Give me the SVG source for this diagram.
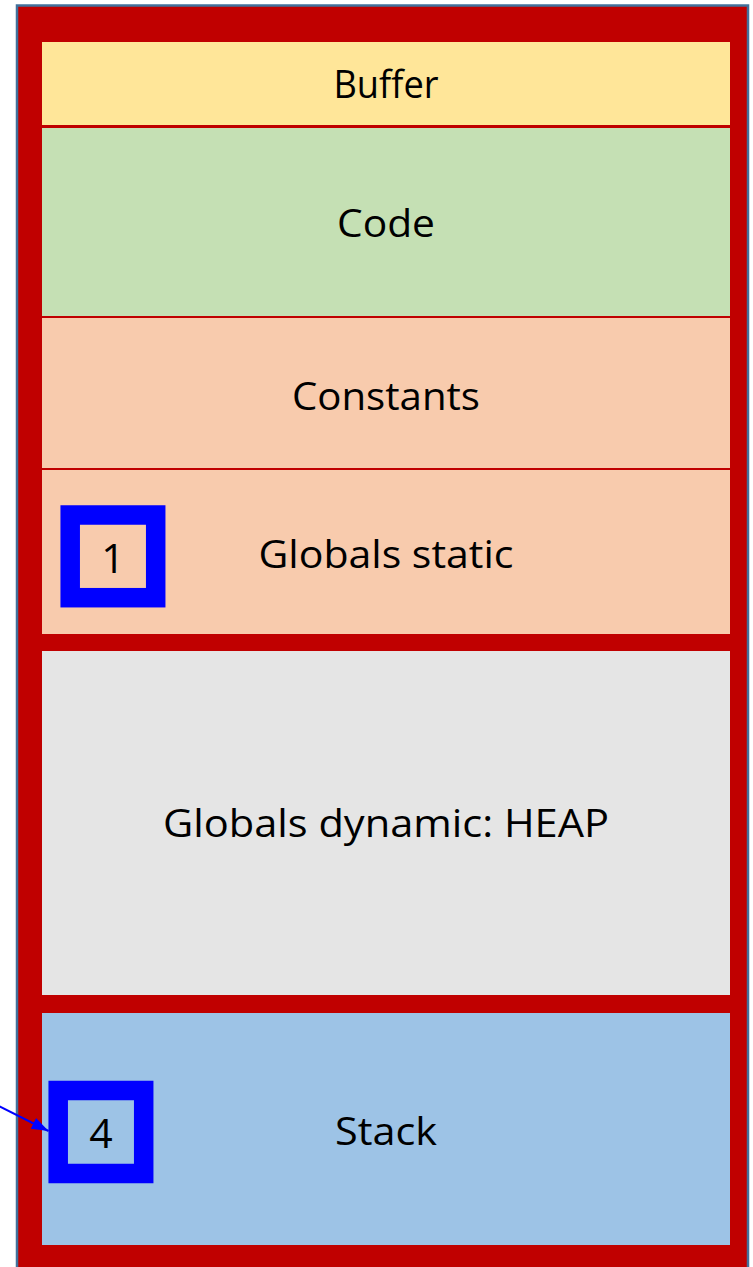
<svg xmlns="http://www.w3.org/2000/svg" width="753" height="1267" viewBox="0 0 753 1267">
<style>
.lbl{font-family:"Open Sans","Liberation Sans",sans-serif;font-size:38px;fill:#000;text-anchor:middle}
.num{font-family:"Open Sans","Liberation Sans",sans-serif;font-size:41px;fill:#000;text-anchor:middle}
.badge{stroke:#0000FF;stroke-width:19.5}
</style>
<defs>
<marker id="ah" markerUnits="userSpaceOnUse" markerWidth="20" markerHeight="14" refX="17" refY="6" orient="auto">
<path d="M0,0 L17,6 L0,12 Z" fill="#0000FF"/>
</marker>
</defs>
<g id="frame">
<rect x="17" y="5.5" width="731" height="1275" fill="#C00000" stroke="#41719C" stroke-width="2.5"/>
</g>
<g id="buffer">
<rect x="42" y="42" width="688" height="83" fill="#FFE699"/>
<text class="lbl" x="386" y="98" textLength="105" lengthAdjust="spacingAndGlyphs">Buffer</text>
</g>
<g id="code">
<rect x="42" y="128" width="688" height="188" fill="#C5E0B4"/>
<text class="lbl" x="386" y="237" textLength="98" lengthAdjust="spacingAndGlyphs">Code</text>
</g>
<g id="constants">
<rect x="42" y="318" width="688" height="150" fill="#F8CBAD"/>
<text class="lbl" x="386" y="410" textLength="188" lengthAdjust="spacingAndGlyphs">Constants</text>
</g>
<g id="globals-static">
<rect x="42" y="470" width="688" height="164" fill="#F8CBAD"/>
<text class="lbl" x="386" y="568" textLength="255" lengthAdjust="spacingAndGlyphs">Globals static</text>
</g>
<g id="heap">
<rect x="42" y="651" width="688" height="344" fill="#E5E5E5"/>
<text class="lbl" x="386" y="837" textLength="446" lengthAdjust="spacingAndGlyphs">Globals dynamic: HEAP</text>
</g>
<g id="stack">
<rect x="42" y="1013" width="688" height="232" fill="#9DC3E6"/>
<text class="lbl" x="386" y="1145" textLength="102" lengthAdjust="spacingAndGlyphs">Stack</text>
</g>
<g id="badge-1">
<rect class="badge" x="70.2" y="515" width="85.5" height="82.7" fill="#F8CBAD"/>
<text class="num" x="113" y="573">1</text>
</g>
<g id="badge-4">
<rect class="badge" x="58.2" y="1090.5" width="85.5" height="83" fill="#9DC3E6"/>
<text class="num" x="101" y="1148">4</text>
</g>
<g id="connectors">
<line x1="-5" y1="1104" x2="48.5" y2="1131" stroke="#0000FF" stroke-width="2" marker-end="url(#ah)"/>
</g>
</svg>
